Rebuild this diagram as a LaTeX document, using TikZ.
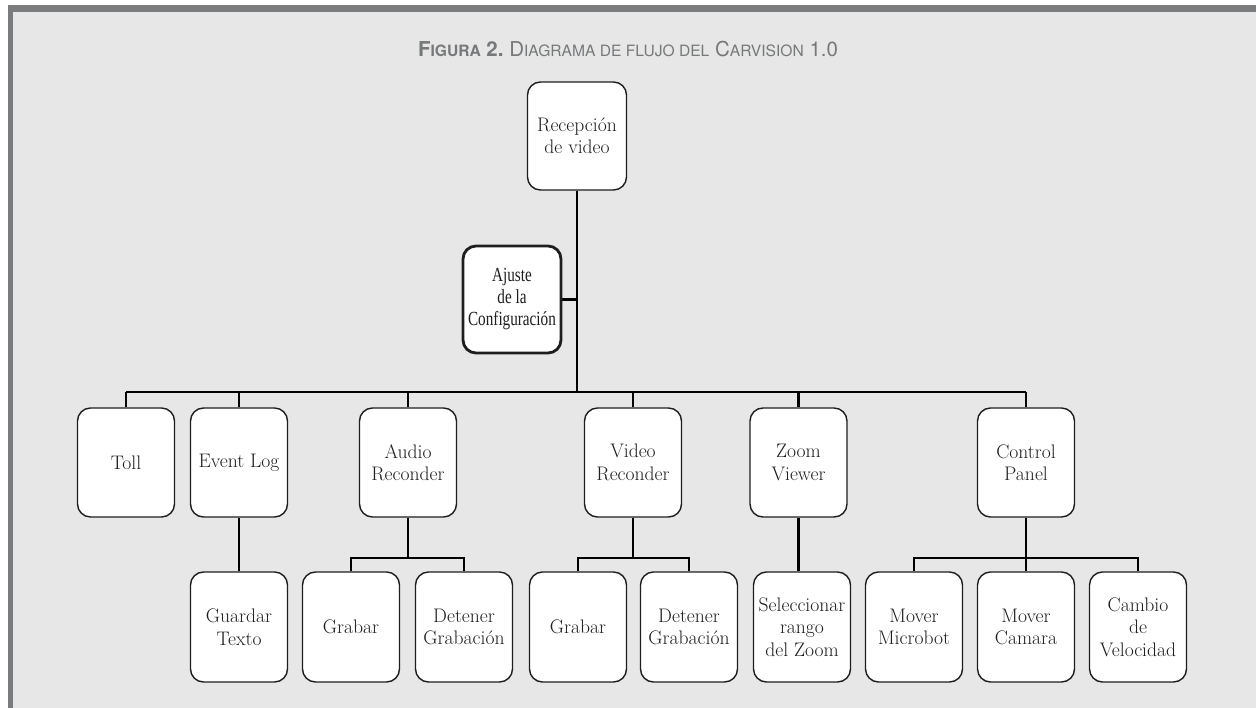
\documentclass[tikz,border=0pt]{standalone}
\usepackage{fontspec}
\newfontfamily\titlefont{TeX Gyre Heros}
\newfontfamily\condfont[FakeStretch=0.76]{Liberation Serif}
\definecolor{pagebg}{HTML}{E6E7E6}
\definecolor{framegray}{HTML}{7A7C7D}
\definecolor{titlegray}{HTML}{76787A}
\definecolor{inkdark}{HTML}{1E1E1E}
\newcommand\smc[1]{{\fontsize{15.6}{15.6}\selectfont #1}}
\pgfdeclarelayer{bg}
\pgfdeclarelayer{wires}
\pgfsetlayers{bg,wires,main}
\tikzset{
  box/.style={draw=inkdark, fill=white, line width=1.4pt, rounded corners=13pt,
    minimum width=97pt, minimum height=109pt, inner sep=0pt, align=center,
    text=inkdark, font=\fontsize{19.6}{22.5}\selectfont},
  lowbox/.style={box, minimum height=110pt},
  boldbox/.style={box, line width=2.8pt, minimum width=98pt, minimum height=107pt,
    font=\condfont\fontsize{20}{22}\selectfont},
  wire/.style={draw=black, line width=2.8pt}
}
\begin{document}
\begin{tikzpicture}[x=1pt, y=-1pt]
\useasboundingbox (0,0) rectangle (1256,708);
\begin{pgfonlayer}{bg}
  \fill[white] (0,0) rectangle (1256,708);
  \fill[framegray] (8,5) rectangle (1256,708);
  \fill[pagebg] (13,12) rectangle (1256,708);
\end{pgfonlayer}

% title
\node[anchor=base, text=titlegray, inner sep=0pt] (title) at (628,57)
  {\titlefont\fontsize{20.5}{20.5}\selectfont
   \textbf{F\smc{IGURA} 2.}\ D\smc{IAGRAMA DE FLUJO DEL} C\smc{ARVISION} 1.0};

% top of the tree
\node[box, minimum width=99pt, minimum height=108pt] (rec) at (577,136) {Recepción\\de video};
\node[boldbox] (aju) at (512,299.5) {Ajuste\\de la\\Configuración};

% second level
\node[box] (toll)    at (126,462.5)  {Toll};
\node[box] (event)   at (239,462.5)  {Event Log};
\node[box] (audio)   at (408,462.5)  {Audio\\Reconder};
\node[box] (video)   at (633,462.5)  {Video\\Reconder};
\node[box] (zoomv)   at (798.5,462.5){Zoom\\Viewer};
\node[box] (control) at (1026,462.5) {Control\\Panel};

% third level
\node[lowbox] (guardar) at (239,627)  {Guardar\\Texto};
\node[lowbox] (grabA)   at (351,627)  {Grabar};
\node[lowbox] (detA)    at (464,627)  {Detener\\Grabación};
\node[lowbox] (grabV)   at (578,627)  {Grabar};
\node[lowbox] (detV)    at (689,627)  {Detener\\Grabación};
\node[lowbox] (sel)     at (802,627)  {Seleccionar\\rango\\del Zoom};
\node[lowbox] (micro)   at (914,627)  {Mover\\Microbot};
\node[lowbox] (camara)  at (1026,627) {Mover\\Camara};
\node[lowbox] (cambio)  at (1138,627) {Cambio\\de\\Velocidad};

% junction levels
\coordinate (bus) at (577,392);
\coordinate (sub) at (0,558);

\begin{pgfonlayer}{wires}
  \draw[wire] (rec.south) -- (rec.south |- bus);
  \draw[wire] (aju.east) -- (aju.east -| rec.south);
  \draw[wire] (toll.north |- bus) -- (control.north |- bus);
  \foreach \n in {toll,event,audio,video,zoomv,control}
    \draw[wire] (\n.north) -- (\n.north |- bus);
  % event log and zoom viewer have one child each
  \draw[wire] (event.south) -- (guardar.north);
  \draw[wire] (zoomv.south) -- (zoomv.south |- sel.north);
  % branches with several children
  \draw[wire] (audio.south) -- (audio.south |- sub);
  \draw[wire, line join=miter] (grabA.north) |- (detA.north |- sub) -- (detA.north);
  \draw[wire] (video.south) -- (video.south |- sub);
  \draw[wire, line join=miter] (grabV.north) |- (detV.north |- sub) -- (detV.north);
  \draw[wire] (control.south) -- (camara.north);
  \draw[wire, line join=miter] (micro.north) |- (cambio.north |- sub) -- (cambio.north);
\end{pgfonlayer}
\end{tikzpicture}
\end{document}
